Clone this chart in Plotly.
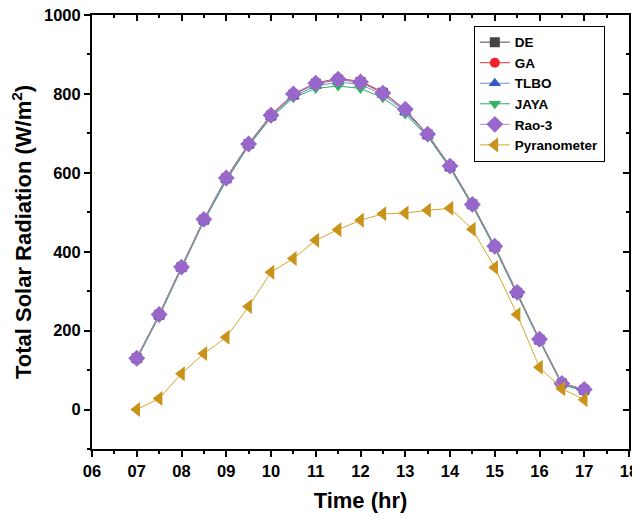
import plotly.graph_objects as go

# time of day (hr)
hours = [7, 7.5, 8, 8.5, 9, 9.5, 10, 10.5, 11, 11.5, 12, 12.5, 13, 13.5, 14, 14.5, 15, 15.5, 16, 16.5, 17]

# estimated total solar radiation (W/m2) by each model
de = [130, 240, 361, 481, 586, 673, 745, 798, 826, 836, 830, 803, 758, 697, 616, 520, 413, 296, 177, 66, 50]
ga = [131, 241, 362, 482, 587, 674, 747, 800, 828, 839, 832, 805, 760, 698, 617, 521, 414, 297, 178, 67, 51]
tlbo = [128, 238, 359, 479, 583, 670, 742, 794, 820, 830, 824, 798, 754, 694, 613, 517, 410, 294, 175, 64, 48]
jaya = [127, 236, 357, 477, 580, 668, 740, 790, 814, 820, 814, 790, 749, 692, 612, 516, 409, 293, 174, 63, 47]
rao3 = [130, 241, 361, 482, 587, 673, 746, 800, 827, 837, 830, 802, 761, 698, 617, 520, 414, 297, 178, 66, 51]
# measured
pyranometer = [0, 28, 91, 142, 183, 261, 348, 383, 429, 456, 480, 496, 498, 505, 510, 457, 360, 241, 107, 53, 25]

x_ticks = [6, 7, 8, 9, 10, 11, 12, 13, 14, 15, 16, 17, 18]
x_labels = ["06", "07", "08", "09", "10", "11", "12", "13", "14", "15", "16", "17", "18"]

series = [
    ("DE", de, "#4a4a4a", "#444444", "square", 10),
    ("GA", ga, "#e8303a", "#f0202c", "circle", 10),
    ("TLBO", tlbo, "#6f8fd0", "#3658c0", "triangle-up", 11),
    ("JAYA", jaya, "#3aa866", "#33b565", "triangle-down", 11),
    ("Rao-3", rao3, "#a98ac8", "#9966cc", "diamond", 13),
    ("Pyranometer", pyranometer, "#d4a62a", "#c9931b", "triangle-left", 13),
]

fig = go.Figure()
for name, vals, lcol, mcol, sym, size in series:
    fig.add_trace(go.Scatter(
        x=hours, y=vals, name=name, mode="lines+markers",
        line=dict(color=lcol, width=1),
        marker=dict(symbol=sym, size=size, color=mcol),
    ))

title_font = dict(family="Liberation Sans", size=22, color="black", weight="bold")

# page body adds an 8px offset, so the figure is drawn 8px smaller
fig.update_layout(
    width=632, height=510,
    paper_bgcolor="white", plot_bgcolor="white",
    margin=dict(l=84, r=11, t=7, b=69),
    font=dict(family="Liberation Sans", size=16.5, color="black", weight="bold"),
    showlegend=True,
    legend=dict(
        x=0.711, y=0.975, xanchor="left", yanchor="top",
        bordercolor="black", borderwidth=1, bgcolor="white",
        font=dict(family="Liberation Sans", size=13.5, color="black", weight="bold"),
        tracegroupgap=0, itemwidth=30,
    ),
    xaxis=dict(
        range=[6, 18], tickvals=x_ticks, ticktext=x_labels, automargin=False, ticklabeloverflow="allow",
        showline=True, linecolor="black", linewidth=2, showgrid=False, zeroline=False,
        ticks="outside", ticklen=6, tickwidth=2, tickcolor="black",
        minor=dict(ticks="outside", ticklen=3, tickwidth=2, tickcolor="black", dtick=0.5, showgrid=False),
        title=dict(text="Time (hr)", font=title_font, standoff=14),
    ),
    yaxis=dict(
        range=[-100, 1000], dtick=200, tick0=0, automargin=False, ticklabeloverflow="allow",
        showline=True, linecolor="black", linewidth=2, showgrid=False, zeroline=False,
        ticks="outside", ticklen=6, tickwidth=2, tickcolor="black",
        minor=dict(ticks="outside", ticklen=3, tickwidth=2, tickcolor="black", dtick=100, showgrid=False),
        title=dict(text="Total Solar Radiation (W/m<sup>2</sup>)", font=title_font, standoff=8),
    ),
    xaxis2=dict(
        overlaying="x", side="top", range=[6, 18], tickvals=x_ticks, showticklabels=False, automargin=False,
        showline=True, linecolor="black", linewidth=2, showgrid=False, zeroline=False,
        ticks="inside", ticklen=6, tickwidth=2, tickcolor="black",
        minor=dict(ticks="inside", ticklen=3, tickwidth=2, tickcolor="black", dtick=0.5, showgrid=False),
    ),
    yaxis2=dict(
        overlaying="y", side="right", range=[-100, 1000], dtick=200, tick0=0, showticklabels=False, automargin=False,
        showline=True, linecolor="black", linewidth=2, showgrid=False, zeroline=False,
        ticks="inside", ticklen=6, tickwidth=2, tickcolor="black",
        minor=dict(ticks="inside", ticklen=3, tickwidth=2, tickcolor="black", dtick=100, showgrid=False),
    ),
)

# invisible trace to anchor the mirrored axes
fig.add_trace(go.Scatter(x=[6], y=[-100], xaxis="x2", yaxis="y2", mode="markers",
                         marker=dict(opacity=0), showlegend=False, hoverinfo="skip"))

fig.write_html("out.html")
